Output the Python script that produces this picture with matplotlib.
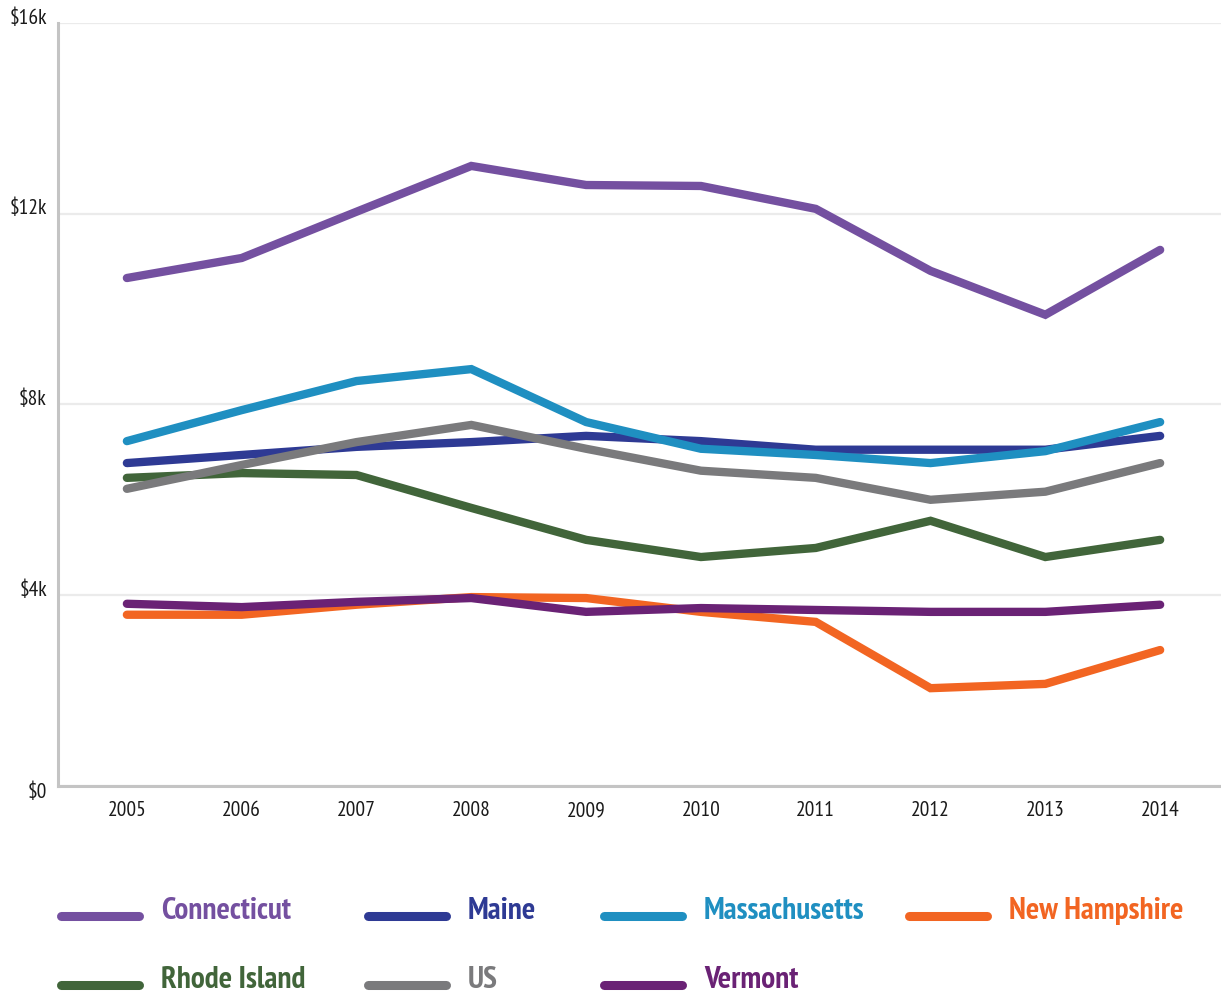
import matplotlib
matplotlib.use("Agg")
import matplotlib.pyplot as plt
import matplotlib.transforms as mtransforms
from matplotlib.lines import Line2D

years = [2005, 2006, 2007, 2008, 2009, 2010, 2011, 2012, 2013, 2014]

connecticut = [10.65, 11.07, 12.04, 13.0, 12.6, 12.58, 12.1, 10.8, 9.88, 11.24]
maine = [6.77, 6.94, 7.11, 7.21, 7.34, 7.23, 7.05, 7.05, 7.05, 7.34]
massachusetts = [7.23, 7.88, 8.49, 8.74, 7.63, 7.07, 6.94, 6.77, 7.02, 7.63]
new_hampshire = [3.59, 3.59, 3.80, 3.96, 3.94, 3.65, 3.44, 2.05, 2.14, 2.85]
rhode_island = [6.46, 6.56, 6.52, 5.83, 5.16, 4.80, 4.99, 5.56, 4.80, 5.16]
us = [6.23, 6.73, 7.21, 7.57, 7.07, 6.61, 6.46, 6.00, 6.17, 6.77]
vermont = [3.82, 3.75, 3.86, 3.94, 3.65, 3.73, 3.69, 3.65, 3.65, 3.80]

names = ["Connecticut", "Maine", "Massachusetts", "New Hampshire",
         "Rhode Island", "US", "Vermont"]
series = [connecticut, maine, massachusetts, new_hampshire,
          rhode_island, us, vermont]
colors = ["#7450a0", "#2e3a94", "#1f8fc1", "#f26522",
          "#41653a", "#7a7a7c", "#6a2275"]

yticks = [0, 4, 8, 12, 16]
ytick_labels = ["$0", "$4k", "$8k", "$12k", "$16k"]

font = ["PT Sans Narrow", "Fira Sans Condensed", "Archivo Narrow",
        "Asap Condensed", "DejaVu Sans"]
plt.rcParams["font.family"] = font

fig = plt.figure(figsize=(12.21, 9.94), dpi=100)
ax = fig.add_axes([0.0475, 0.2093, 0.9525, 0.7677])

for vals, c in zip(series, colors):
    ax.plot(years, vals, color=c, lw=6.0, solid_capstyle="round",
            solid_joinstyle="miter", zorder=3)

ax.set_xlim(2004.4, 2014.53)
ax.set_ylim(0, 16)
ax.set_yticks(yticks)
ax.set_yticklabels(ytick_labels)
ax.set_xticks(years)
ax.set_xticklabels([str(y) for y in years])
ax.tick_params(length=0, labelsize=15.5, colors="#1a1a1a")
ax.tick_params(axis="y", pad=8)
ax.tick_params(axis="x", pad=11)
up = mtransforms.ScaledTranslation(0, 5 / 72, fig.dpi_scale_trans)
down = mtransforms.ScaledTranslation(0, -3 / 72, fig.dpi_scale_trans)
ylbls = ax.get_yticklabels()
ylbls[0].set_transform(ylbls[0].get_transform() + down)
for lbl in ylbls[1:]:
    lbl.set_transform(lbl.get_transform() + up)

ax.grid(axis="y", color="#ebebeb", lw=1.6)
ax.set_axisbelow(True)
for s in ["top", "right"]:
    ax.spines[s].set_visible(False)
ax.spines["left"].set_color("#c4c4c4")
ax.spines["left"].set_linewidth(2.2)
ax.spines["bottom"].set_color("#c4c4c4")
ax.spines["bottom"].set_linewidth(2.2)

# legend, laid out by hand in figure pixels
W, H = 1221, 994
col_x = [57, 364, 600, 905]
row_y = [916, 985]
for i, (name, c) in enumerate(zip(names, colors)):
    r, col = divmod(i, 4)
    x0 = col_x[col]
    y = H - row_y[r]
    fig.add_artist(Line2D([(x0 + 4) / W, (x0 + 82) / W], [y / H, y / H],
                          transform=fig.transFigure, color=c, lw=6.5,
                          solid_capstyle="round"))
    fig.text((x0 + 104) / W, (y + 5) / H, name, color=c, fontsize=22.5,
             fontweight="bold", va="center", ha="left")

fig.savefig("out.png", dpi=100)
